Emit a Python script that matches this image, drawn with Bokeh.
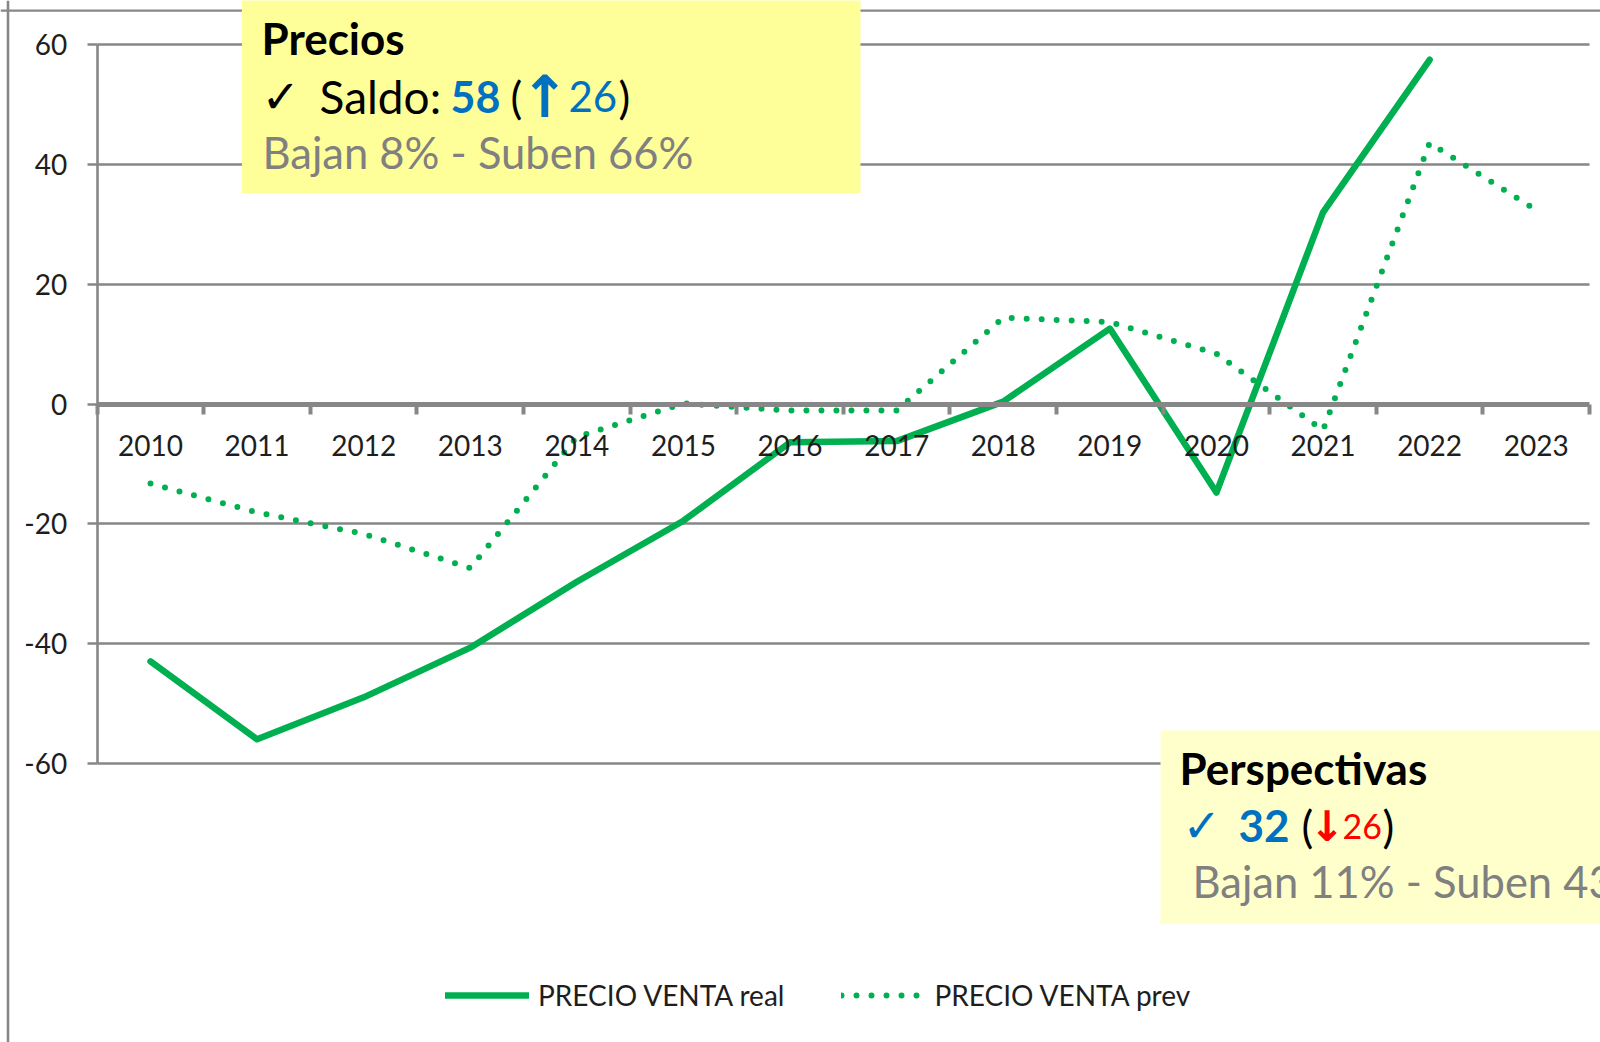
import math
from bokeh.plotting import figure
from bokeh.models import (LinearAxis, FixedTicker, Grid, Range1d, Legend, LegendItem,
                          BoxAnnotation, Label, Span, ColumnDataSource)
from bokeh.embed import file_html
from bokeh.resources import INLINE

# ---------------- data ----------------
years = ["2010", "2011", "2012", "2013", "2014", "2015", "2016",
         "2017", "2018", "2019", "2020", "2021", "2022", "2023"]
real = [-43.0, -56.0, -49.0, -40.7, -29.7, -19.5, -6.4,
        -6.2, 0.4, 12.6, -14.8, 32.0, 57.5, float("nan")]
prev = [-13.3, -18.1, -21.7, -27.4, -5.5, 0.1, -1.1,
        -1.1, 14.4, 13.7, 8.4, -4.4, 43.6, 32.4]
y_ticks = [-60, -40, -20, 0, 20, 40, 60]
series_names = ["PRECIO VENTA real", "PRECIO VENTA prev"]

# ---------------- geometry / style ----------------
W, H = 1600, 1042
AX_L, AX_R = 96.7, 1589.0      # canvas x of category axis ends
Y_TOP, Y_BOT = 44.3, 762.7     # canvas y of top / bottom y tick
GREEN = "#00B050"
GRAY = "#878787"
BLUE = "#0070C0"
RED = "#FF0000"
TXT = "#1e1e1e"
FONT = "Lato"
DY = -16   # vertical correction for text labels

n = len(years)
xs = [i + 0.5 for i in range(n)]
kx = (AX_R - AX_L) / n
ky = (Y_BOT - Y_TOP) / (y_ticks[-1] - y_ticks[0])
x_range = Range1d(-AX_L / kx, n + (W - AX_R) / kx)
y_range = Range1d(y_ticks[0] - (H - Y_BOT) / ky, y_ticks[-1] + Y_TOP / ky)

p = figure(width=W, height=H, x_range=x_range, y_range=y_range,
           x_axis_location=None, y_axis_location=None,
           toolbar_location=None, output_backend="svg", min_border=0)
p.outline_line_color = None
for g in p.grid:
    g.visible = False

# horizontal gridlines
grid = Grid(dimension=1, ticker=FixedTicker(ticks=[t for t in y_ticks if t != 0]),
            grid_line_color=GRAY, grid_line_width=2.4)
if "cross_bounds" in Grid.properties():
    grid.cross_bounds = (0, n)
p.add_layout(grid)

# outer chart border (left and top)
p.add_layout(Span(location=7.5, location_units="screen", dimension="height",
                  line_color=GRAY, line_width=2.6))
p.add_layout(Span(location=H - 10.2, location_units="screen", dimension="width",
                  line_color=GRAY, line_width=2.2))

# y axis
yax = LinearAxis(ticker=FixedTicker(ticks=y_ticks), fixed_location=0,
                 bounds=(y_ticks[0], y_ticks[-1]),
                 axis_line_color=GRAY, axis_line_width=2.6,
                 major_tick_line_color=GRAY, major_tick_line_width=2.4,
                 major_tick_out=10, major_tick_in=0,
                 minor_tick_line_color=None,
                 major_label_overrides={t: str(t) for t in y_ticks},
                 major_label_standoff=20,
                 major_label_text_font=FONT, major_label_text_font_size="28px",
                 major_label_text_color=TXT)
p.add_layout(yax, "left")

# x axis line with boundary ticks
xax = LinearAxis(ticker=FixedTicker(ticks=list(range(n + 1))), fixed_location=0,
                 bounds=(0, n),
                 axis_line_color=GRAY, axis_line_width=5,
                 major_tick_line_color=GRAY, major_tick_line_width=4,
                 major_tick_out=10, major_tick_in=0,
                 minor_tick_line_color=None,
                 major_label_overrides={i: "" for i in range(n + 1)},
                 major_label_text_font_size="1px")
p.add_layout(xax, "below")

# x category labels
xlab = LinearAxis(ticker=FixedTicker(ticks=xs), fixed_location=0,
                  axis_line_color=None, major_tick_line_color=None,
                  minor_tick_line_color=None, major_tick_out=0, major_tick_in=0,
                  major_label_overrides={x: y for x, y in zip(xs, years)},
                  major_label_standoff=31,
                  major_label_text_font=FONT, major_label_text_font_size="28px",
                  major_label_text_color=TXT)
p.add_layout(xlab, "below")

src = ColumnDataSource(dict(x=xs, real=real, prev=prev))
r1 = p.line("x", "real", source=src, line_color=GREEN, line_width=6.5,
            line_cap="round", line_join="round")
r2 = p.line("x", "prev", source=src, line_color=GREEN, line_width=6,
            line_dash="0 15", line_cap="round", line_join="round")

legend = Legend(items=[LegendItem(label=series_names[0], renderers=[r1]),
                       LegendItem(label=series_names[1], renderers=[r2])],
                orientation="horizontal", location=(445, H - 1011.5),
                glyph_width=84, glyph_height=32, label_height=32,
                label_standoff=9, spacing=57, padding=0, margin=0,
                border_line_color=None, background_fill_alpha=0,
                label_text_font=FONT, label_text_font_size="28px",
                label_text_color=TXT)
p.add_layout(legend)

# annotation boxes
p.add_layout(BoxAnnotation(left=241.4, right=860, top=H + 10, bottom=H - 192.7,
                           left_units="screen", right_units="screen",
                           top_units="screen", bottom_units="screen",
                           fill_color="#FFFF99", fill_alpha=1, line_color=None))
p.add_layout(BoxAnnotation(left=1160, right=W + 10, top=H - 730, bottom=H - 923.3,
                           left_units="screen", right_units="screen",
                           top_units="screen", bottom_units="screen",
                           fill_color="#FFFFCC", fill_alpha=1, line_color=None))


def lab(text, cx, cy, size, color="black", bold=False, font=FONT):
    p.add_layout(Label(x=cx, y=H - (cy + DY), x_units="screen", y_units="screen",
                       text=text, text_font=font, text_font_size=f"{size}px",
                       text_color=color,
                       text_font_style="bold" if bold else "normal",
                       text_baseline="alphabetic", text_align="left"))


# box 1: Precios
lab("Precios", 261, 53.5, 44, bold=True)
lab("\u2713", 261, 112, 46, font="DejaVu Sans")
lab("Saldo:", 319, 112, 46)
lab("58", 450, 112, 43, color=BLUE, bold=True)
lab("(", 510, 112, 44)
lab("\u2191", 520, 112, 58, color=BLUE, bold=True, font="DejaVu Sans")
lab("26", 568, 112, 42, color=BLUE)
lab(")", 618, 112, 44)
lab("Bajan 8% - Suben 66%", 262, 167, 43.5, color="#808080")

# box 2: Perspectivas
lab("Perspectivas", 1179, 783.3, 44, bold=True)
lab("\u2713", 1182, 841.7, 46, color=BLUE, font="DejaVu Sans")
lab("32", 1238, 841.7, 44, color=BLUE, bold=True)
lab("(", 1301, 841.7, 44)
lab("\u2193", 1309, 841.7, 42, color=RED, bold=True, font="DejaVu Sans")
lab("26", 1342, 841.7, 34, color=RED)
lab(")", 1382, 841.7, 44)
lab("Bajan 11% - Suben 43%", 1192, 896.7, 43.5, color="#808080")

open("out.html", "w").write(file_html(p, INLINE))
